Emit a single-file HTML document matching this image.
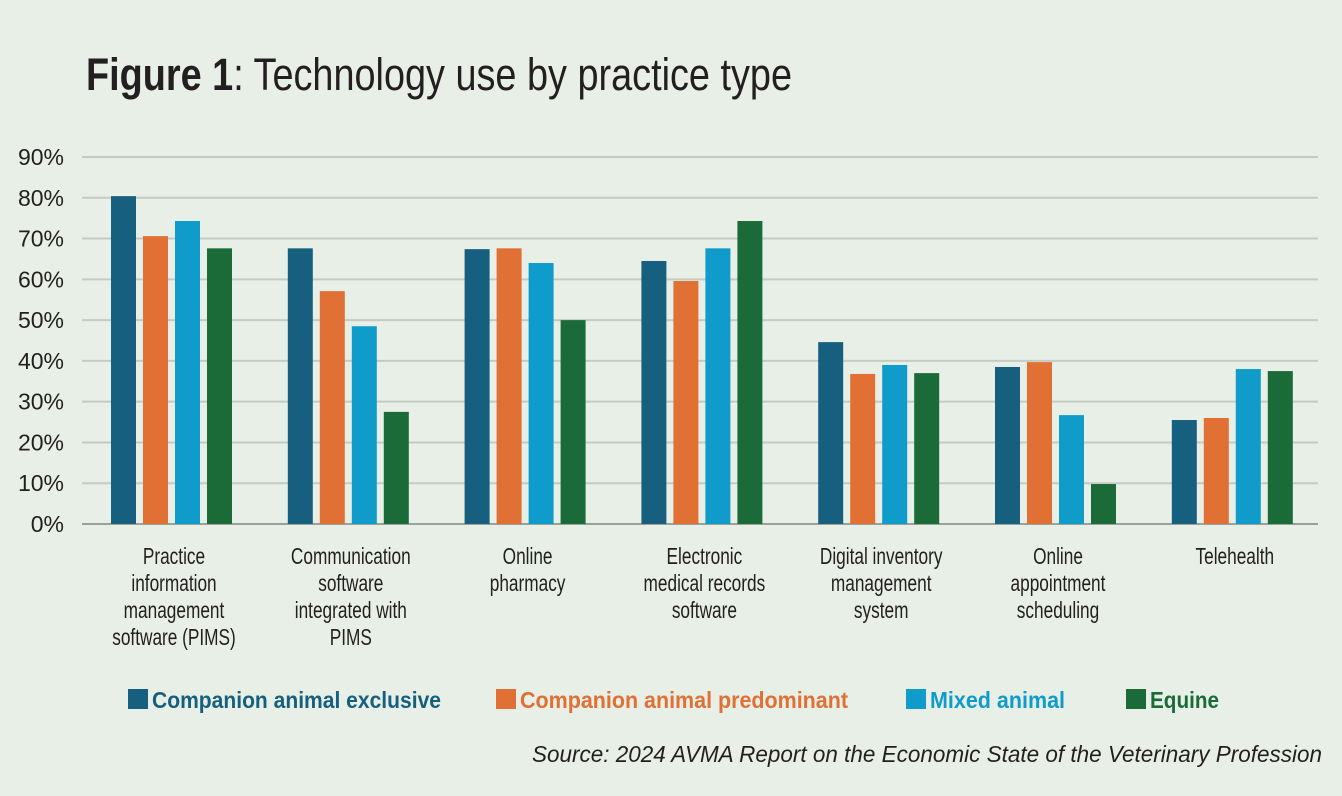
<!DOCTYPE html>
<html><head><meta charset="utf-8"><style>
body{margin:0;background:#e8efe6;}
svg{display:block;font-family:"Liberation Sans Narrow","Liberation Sans",sans-serif;}
</style></head><body>
<svg width="1342" height="796">
<rect width="1342" height="796" fill="#e8efe6"/>
<text x="86" y="90" font-size="45" fill="#231f20" textLength="706" lengthAdjust="spacingAndGlyphs"><tspan font-weight="bold">Figure 1</tspan>: Technology use by practice type</text>
<g id="grid"></g><g id="bars"></g><g id="cats"></g><g id="legend"></g>
<text x="532" y="762" font-size="23" font-style="italic" fill="#231f20" textLength="790" lengthAdjust="spacingAndGlyphs">Source: 2024 AVMA Report on the Economic State of the Veterinary Profession</text>
</svg>
<script>
const categories=[["Practice","information","management","software (PIMS)"],["Communication","software","integrated with","PIMS"],["Online","pharmacy"],["Electronic","medical records","software"],["Digital inventory","management","system"],["Online","appointment","scheduling"],["Telehealth"]];
const seriesNames=["Companion animal exclusive","Companion animal predominant","Mixed animal","Equine"];
const companionExclusive=[80.4,67.6,67.4,64.5,44.6,38.5,25.5];
const companionPredominant=[70.6,57.1,67.6,59.6,36.8,39.7,26];
const mixedAnimal=[74.3,48.5,64,67.6,39,26.7,38];
const equine=[67.6,27.5,50,74.3,37,9.8,37.5];
const yTicks=[0,10,20,30,40,50,60,70,80,90];
const colors=["#175f7e","#e07034","#0f9ccb","#1a6b38"];
const series=[companionExclusive,companionPredominant,mixedAnimal,equine];
const NS="http://www.w3.org/2000/svg";
function mk(t,a,p){const e=document.createElementNS(NS,t);for(const k in a)e.setAttribute(k,a[k]);p.appendChild(e);return e;}
const y=v=>524-v*(367/90);
const gx=i=>171+i*176.8;
const grid=document.getElementById('grid');
yTicks.forEach(t=>{
 const l=mk('line',{x1:82,x2:1318,y1:y(t),y2:y(t),stroke:t===0?'#9aa19a':'#c5cbc4','stroke-width':2},grid);
 
 
 const tx=mk('text',{x:64,y:y(t)+8,'text-anchor':'end','font-size':23,fill:'#231f20'},grid);
 tx.textContent=t+'%';
 
 
});
const bars=document.getElementById('bars');
series.forEach((s,si)=>s.forEach((v,ci)=>{
 const x=gx(ci)-60+si*32;
 const r=mk('rect',{x:x,y:y(v),width:25,height:524-y(v),fill:colors[si]},bars);
 
 
}));
const cats=document.getElementById('cats');
categories.forEach((lines,ci)=>{
 const cx=gx(ci)+3;
 const t=mk('text',{'text-anchor':'middle','font-size':23,fill:'#231f20',transform:`translate(${cx},0) scale(0.75,1) translate(${-cx},0)`},cats);
 
 
 lines.forEach((ln,li)=>{const sp=mk('tspan',{x:cx,y:564+li*27},t);sp.textContent=ln;});
});
const lg=document.getElementById('legend');
const lx=[128,496,906,1126];
const lw=[289,328,135,69];
seriesNames.forEach((n,i)=>{
 const r=mk('rect',{x:lx[i],y:689,width:20,height:20,fill:colors[i]},lg);
 
 
 const t=mk('text',{x:lx[i]+24,y:708,'font-size':23,'font-weight':'bold',fill:colors[i],textLength:lw[i],lengthAdjust:'spacingAndGlyphs'},lg);
 t.textContent=n;
 
 
});
</script>
</body></html>
